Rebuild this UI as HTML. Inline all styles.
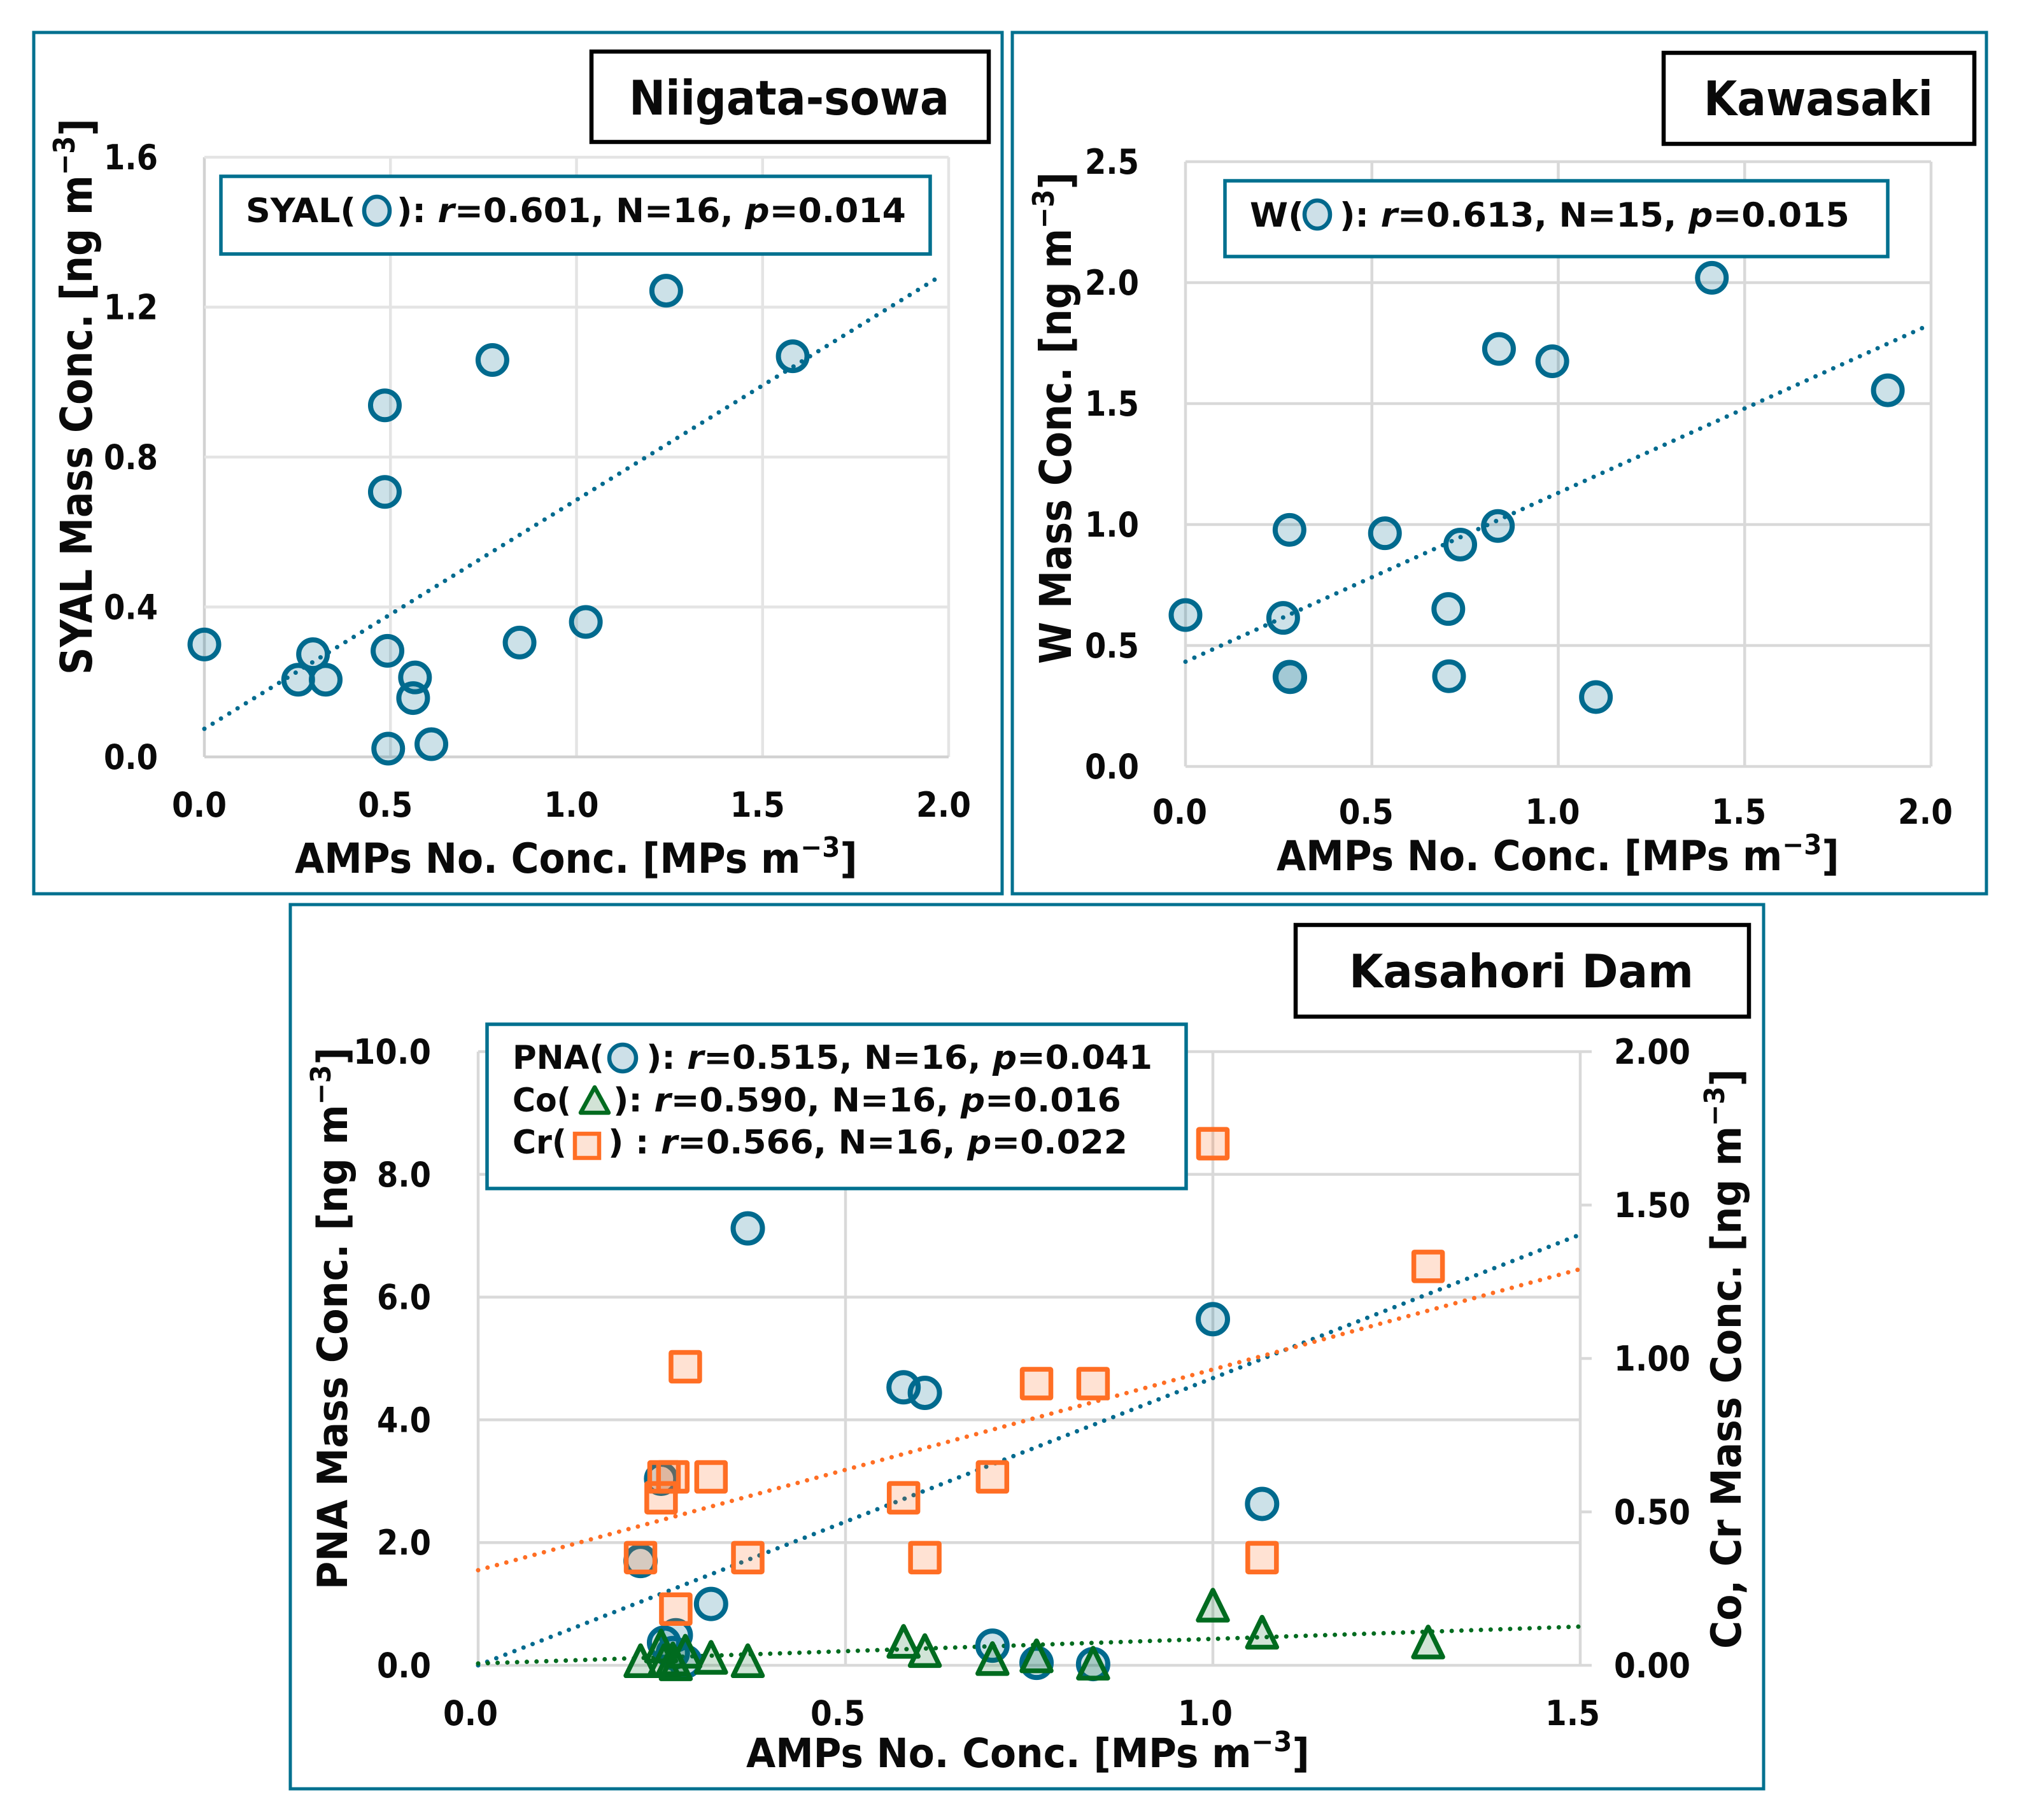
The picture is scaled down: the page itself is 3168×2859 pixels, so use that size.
<!DOCTYPE html>
<html lang="en">
<head>
<meta charset="utf-8">
<title>AMPs correlation charts</title>
<style>
html,body{margin:0;padding:0;background:#fff;}
svg{display:block;}
text{font-family:"DejaVu Sans","Liberation Sans",sans-serif;font-weight:700;fill:#0a0a0a;}
.frame{fill:#fff;stroke:#00708f;stroke-width:5;}
.titlebox{fill:#fff;stroke:#000;stroke-width:6.5;}
.legendbox{fill:#fff;stroke:#00708f;stroke-width:5.5;}
.ital{font-style:italic;}
</style>
</head>
<body>
<svg id="figure" xmlns="http://www.w3.org/2000/svg" width="3168" height="2859" viewBox="0 0 3168 2859">
  <rect x="0" y="0" width="3168" height="2859" fill="#fff"/>

  <!-- Panel 1 -->
  <g id="panel-niigata">
    <rect class="frame" x="53" y="51" width="1521" height="1353"/>
    <g id="n-grid"></g>
    <g id="n-ticks"></g>
    <g id="n-marks"></g>
    <g>
      <rect class="legendbox" x="347" y="277" width="1114" height="122"/>
      <text class="fit" data-w="173" font-size="53" transform="translate(386,349)">SYAL(</text>
      <ellipse cx="592" cy="331" rx="20" ry="22" fill="#cde0e8" stroke="#00688c" stroke-width="6.5"/>
      <text class="fit" data-w="800" font-size="53" transform="translate(623,349)">): <tspan class="ital">r</tspan>=0.601, N=16, <tspan class="ital">p</tspan>=0.014</text>
    </g>
    <rect class="titlebox" x="929" y="81" width="624" height="142"/>
    <text class="fit" data-w="503" font-size="75" transform="translate(988,180)">Niigata-sowa</text>
    <text class="fit" data-w="884" font-size="65" transform="translate(463,1371)">AMPs No. Conc. [MPs m<tspan font-size="44" dy="-25">−3</tspan><tspan dy="25">]</tspan></text>
    <text class="fit" data-w="874" font-size="69" transform="translate(144,1060) rotate(-90)">SYAL Mass Conc. [ng m<tspan font-size="46" dy="-27">−3</tspan><tspan dy="27">]</tspan></text>
  </g>

  <!-- Panel 2 -->
  <g id="panel-kawasaki">
    <rect class="frame" x="1590" y="51" width="1530" height="1353"/>
    <g id="k-grid"></g>
    <g id="k-ticks"></g>
    <g id="k-marks"></g>
    <g>
      <rect class="legendbox" x="1924" y="284" width="1041" height="119"/>
      <text class="fit" data-w="85" font-size="53" transform="translate(1963,356)">W(</text>
      <ellipse cx="2069" cy="337" rx="20" ry="22" fill="#cde0e8" stroke="#00688c" stroke-width="6.5"/>
      <text class="fit" data-w="801" font-size="53" transform="translate(2104,356)">): <tspan class="ital">r</tspan>=0.613, N=15, <tspan class="ital">p</tspan>=0.015</text>
    </g>
    <rect class="titlebox" x="2613" y="83" width="488" height="143"/>
    <text class="fit" data-w="360" font-size="75" transform="translate(2676,181)">Kawasaki</text>
    <text class="fit" data-w="884" font-size="65" transform="translate(2005,1367)">AMPs No. Conc. [MPs m<tspan font-size="44" dy="-25">−3</tspan><tspan dy="25">]</tspan></text>
    <text class="fit" data-w="773" font-size="69" transform="translate(1682,1043) rotate(-90)">W Mass Conc. [ng m<tspan font-size="46" dy="-27">−3</tspan><tspan dy="27">]</tspan></text>
  </g>

  <!-- Panel 3 -->
  <g id="panel-kasahori">
    <rect class="frame" x="456" y="1421" width="2314" height="1389"/>
    <g id="d-grid"></g>
    <g id="d-ticks"></g>
    <g id="d-marks"></g>
    <g>
      <rect class="legendbox" x="765" y="1609" width="1098" height="258"/>
      <text class="fit" data-w="144" font-size="52" transform="translate(805,1679)">PNA(</text>
      <circle cx="978" cy="1662" r="21" fill="#cde0e8" stroke="#00688c" stroke-width="6.5"/>
      <text class="fit" data-w="795" font-size="52" transform="translate(1015,1679)">): <tspan class="ital">r</tspan>=0.515, N=16, <tspan class="ital">p</tspan>=0.041</text>
      <text class="fit" data-w="92" font-size="52" transform="translate(805,1746)">Co(</text>
      <path d="M934 1708 L956 1748 L912 1748 Z" fill="#d2e3d6" stroke="#006b1f" stroke-width="6.5" stroke-linejoin="round"/>
      <text class="fit" data-w="798" font-size="52" transform="translate(963,1746)">): <tspan class="ital">r</tspan>=0.590, N=16, <tspan class="ital">p</tspan>=0.016</text>
      <text class="fit" data-w="85" font-size="52" transform="translate(805,1812)">Cr(</text>
      <rect x="903" y="1781" width="38" height="38" fill="#fde3d5" stroke="#ff6e24" stroke-width="6.5"/>
      <text class="fit" data-w="816" font-size="52" transform="translate(955,1812)">) : <tspan class="ital">r</tspan>=0.566, N=16, <tspan class="ital">p</tspan>=0.022</text>
    </g>
    <rect class="titlebox" x="2035" y="1453" width="712" height="144"/>
    <text class="fit" data-w="541" font-size="72" transform="translate(2119,1551)">Kasahori Dam</text>
    <text class="fit" data-w="885" font-size="63" transform="translate(1172,2776)">AMPs No. Conc. [MPs m<tspan font-size="44" dy="-25">−3</tspan><tspan dy="25">]</tspan></text>
    <text class="fit" data-w="852" font-size="65" transform="translate(545,2497) rotate(-90)">PNA Mass Conc. [ng m<tspan font-size="44" dy="-26">−3</tspan><tspan dy="26">]</tspan></text>
    <text class="fit" data-w="911" font-size="65" transform="translate(2734,2590) rotate(-90)">Co, Cr Mass Conc. [ng m<tspan font-size="44" dy="-26">−3</tspan><tspan dy="26">]</tspan></text>
  </g>
</svg>

<script>
// ---------- Niigata-sowa data ----------
const nXTicks = [0, 0.5, 1.0, 1.5, 2.0];
const nYTicks = [0, 0.4, 0.8, 1.2, 1.6];
const nXTickLabels = ['0.0', '0.5', '1.0', '1.5', '2.0'];
const nYTickLabels = ['0.0', '0.4', '0.8', '1.2', '1.6'];
const nAmps = [0.00, 0.292, 0.252, 0.326, 0.492, 0.566, 0.561, 0.494, 0.610, 0.847, 1.025, 0.485, 0.485, 0.774, 1.241, 1.581];
const nSyal = [0.30, 0.274, 0.206, 0.206, 0.283, 0.212, 0.157, 0.022, 0.034, 0.305, 0.360, 0.707, 0.938, 1.059, 1.244, 1.069];
const nTrendX = [0, 1.97];
const nTrendY = [0.075, 1.278];

// ---------- Kawasaki data ----------
const kXTicks = [0, 0.5, 1.0, 1.5, 2.0];
const kYTicks = [0, 0.5, 1.0, 1.5, 2.0, 2.5];
const kXTickLabels = ['0.0', '0.5', '1.0', '1.5', '2.0'];
const kYTickLabels = ['0.0', '0.5', '1.0', '1.5', '2.0', '2.5'];
const kAmps = [0.00, 0.262, 0.279, 0.279, 0.281, 0.535, 0.705, 0.707, 0.737, 0.838, 0.841, 0.984, 1.101, 1.412, 1.884];
const kW = [0.626, 0.614, 0.978, 0.371, 0.369, 0.964, 0.651, 0.373, 0.917, 0.994, 1.726, 1.675, 0.287, 2.02, 1.555];
const kTrendX = [0, 1.986];
const kTrendY = [0.433, 1.819];

// ---------- Kasahori Dam data ----------
const dXTicks = [0, 0.5, 1.0, 1.5];
const dLeftTicks = [0, 2, 4, 6, 8, 10];
const dRightTicks = [0, 0.5, 1.0, 1.5, 2.0];
const dXTickLabels = ['0.0', '0.5', '1.0', '1.5'];
const dLeftTickLabels = ['0.0', '2.0', '4.0', '6.0', '8.0', '10.0'];
const dRightTickLabels = ['0.00', '0.50', '1.00', '1.50', '2.00'];
const dAmps = [0.221, 0.249, 0.253, 0.265, 0.269, 0.282, 0.317, 0.367, 0.579, 0.608, 0.700, 0.760, 0.837, 1.000, 1.067, 1.293];
const dPna = [1.70, 3.04, 0.37, 0.20, 0.49, 0.06, 1.00, 7.12, 4.53, 4.44, 0.32, 0.04, 0.02, 5.64, 2.63, null];
const dCo = [0.016, 0.064, 0.016, 0.022, 0.006, 0.047, 0.027, 0.016, 0.079, 0.049, 0.023, 0.032, 0.008, 0.197, 0.109, 0.077];
const dCr = [0.351, 0.546, 0.614, 0.614, 0.183, 0.973, 0.614, 0.351, 0.546, 0.351, 0.614, 0.918, 0.918, 1.70, 0.351, 1.30];
const dTrendX = [0, 1.498];
const dPnaTrendY = [0.0, 7.01];
const dCoTrendY = [0.006, 0.126];
const dCrTrendY = [0.31, 1.29];

// ---------- helpers ----------
const NS = 'http://www.w3.org/2000/svg';
const BLUE = '#006a8e', BLUE_FILL = 'rgba(0,104,140,0.2)';
const GREEN = '#006b1f', GREEN_FILL = 'rgba(0,107,31,0.18)';
const ORANGE = '#ff6e24', ORANGE_FILL = 'rgba(255,110,36,0.2)';

function scale(d0, d1, r0, r1) {
  return function (v) { return r0 + (v - d0) / (d1 - d0) * (r1 - r0); };
}
function add(parent, tag, attrs) {
  const el = document.createElementNS(NS, tag);
  for (const k in attrs) el.setAttribute(k, attrs[k]);
  parent.appendChild(el);
  return el;
}
function gridLine(parent, x1, y1, x2, y2, w, color) {
  const el = add(parent, 'line', { x1: x1, y1: y1, x2: x2, y2: y2, stroke: color, 'stroke-width': w });
  
  
  return el;
}
function tickLabel(parent, str, x, y, anchor, width, size) {
  const el = add(parent, 'text', {
    'font-size': size, 'text-anchor': anchor, transform: 'translate(' + x + ',' + y + ')',
    'class': 'fit', 'data-w': width
  });
  el.textContent = str;
  
  
  return el;
}
function circle(parent, cx, cy, r, sw) {
  const el = add(parent, 'circle', { cx: cx, cy: cy, r: r, fill: BLUE_FILL, stroke: BLUE, 'stroke-width': sw });
  
  
  return el;
}
function square(parent, cx, cy) {
  const el = add(parent, 'rect', { x: cx - 22.5, y: cy - 22.5, width: 45, height: 45, rx: 1, fill: ORANGE_FILL, stroke: ORANGE, 'stroke-width': 7.5 });
  
  
  return el;
}
function triangle(parent, cx, cy) {
  const d = 'M' + cx + ' ' + (cy - 23) + ' L' + (cx + 23) + ' ' + (cy + 24) + ' L' + (cx - 23) + ' ' + (cy + 24) + ' Z';
  const el = add(parent, 'path', { d: d, fill: GREEN_FILL, stroke: GREEN, 'stroke-width': 7.5, 'stroke-linejoin': 'round' });
  
  
  return el;
}
function trend(parent, sx, sy, xs, ys, color) {
  const el = add(parent, 'line', {
    x1: sx(xs[0]), y1: sy(ys[0]), x2: sx(xs[1]), y2: sy(ys[1]),
    stroke: color, 'stroke-width': 7, 'stroke-linecap': 'round', 'stroke-dasharray': '0 15.3'
  });
  
  
  return el;
}

// ---------- panel 1 ----------
(function () {
  const L = 321, R = 1490, T = 247, B = 1189;
  const sx = scale(0, 2, L, R), sy = scale(0, 1.6, B, T);
  const grid = document.getElementById('n-grid');
  const ticks = document.getElementById('n-ticks');
  const marks = document.getElementById('n-marks');
  nXTicks.forEach(function (v) { gridLine(grid, sx(v), T, sx(v), B, 4.5, v === 0 ? '#d2d2d2' : '#e4e4e4'); });
  nYTicks.forEach(function (v) { gridLine(grid, L, sy(v), R, sy(v), 4.5, v === 0 ? '#d2d2d2' : '#e4e4e4'); });
  nXTicks.forEach(function (v, i) { tickLabel(ticks, nXTickLabels[i], sx(v) - 8, 1283, 'middle', 86, 54); });
  nYTicks.forEach(function (v, i) { tickLabel(ticks, nYTickLabels[i], 248, sy(v) + 19, 'end', 85, 54); });
  nAmps.forEach(function (x, i) { circle(marks, sx(x), sy(nSyal[i]), 22.5, 8); });
  trend(marks, sx, sy, nTrendX, nTrendY, BLUE);
})();

// ---------- panel 2 ----------
(function () {
  const L = 1862, R = 3033, T = 254, B = 1204;
  const sx = scale(0, 2, L, R), sy = scale(0, 2.5, B, T);
  const grid = document.getElementById('k-grid');
  const ticks = document.getElementById('k-ticks');
  const marks = document.getElementById('k-marks');
  kXTicks.forEach(function (v) { gridLine(grid, sx(v), T, sx(v), B, 4.5, '#d9d9d9'); });
  kYTicks.forEach(function (v) { gridLine(grid, L, sy(v), R, sy(v), 4.5, '#d9d9d9'); });
  kXTicks.forEach(function (v, i) { tickLabel(ticks, kXTickLabels[i], sx(v) - 9, 1294, 'middle', 86, 54); });
  kYTicks.forEach(function (v, i) { tickLabel(ticks, kYTickLabels[i], 1789, sy(v) + 19, 'end', 85, 54); });
  kAmps.forEach(function (x, i) { circle(marks, sx(x), sy(kW[i]), 22.5, 8); });
  trend(marks, sx, sy, kTrendX, kTrendY, BLUE);
})();

// ---------- panel 3 ----------
(function () {
  const L = 751, R = 2482, T = 1652, B = 2616;
  const sx = scale(0, 1.5, L, R), syL = scale(0, 10, B, T), syR = scale(0, 2, B, T);
  const grid = document.getElementById('d-grid');
  const ticks = document.getElementById('d-ticks');
  const marks = document.getElementById('d-marks');
  dXTicks.forEach(function (v) { gridLine(grid, sx(v), T, sx(v), B, 4.5, '#d9d9d9'); });
  dLeftTicks.forEach(function (v) { gridLine(grid, L, syL(v), R, syL(v), 4.5, '#d9d9d9'); });
  dRightTicks.forEach(function (v) { gridLine(grid, R, syR(v), R + 18, syR(v), 4.5, '#d9d9d9'); });
  dXTicks.forEach(function (v, i) { tickLabel(ticks, dXTickLabels[i], sx(v) - 12, 2710, 'middle', 86, 54); });
  dLeftTicks.forEach(function (v, i) { tickLabel(ticks, dLeftTickLabels[i], 677, syL(v) + 19, 'end', dLeftTickLabels[i].length > 3 ? 122 : 85, 54); });
  dRightTicks.forEach(function (v, i) { tickLabel(ticks, dRightTickLabels[i], 2535, syR(v) + 19, 'start', 120, 54); });
  trend(marks, sx, syL, dTrendX, dPnaTrendY, BLUE);
  trend(marks, sx, syR, dTrendX, dCrTrendY, ORANGE);
  trend(marks, sx, syR, dTrendX, dCoTrendY, GREEN);
  dAmps.forEach(function (x, i) { if (dPna[i] !== null) circle(marks, sx(x), syL(dPna[i]), 23, 8); });
  dAmps.forEach(function (x, i) { triangle(marks, sx(x), syR(dCo[i])); });
  dAmps.forEach(function (x, i) { square(marks, sx(x), syR(dCr[i])); });
})();

// ---------- fit every text run to its measured width ----------
Array.prototype.forEach.call(document.querySelectorAll('text.fit'), function (el) {
  const want = parseFloat(el.getAttribute('data-w'));
  const len = el.getComputedTextLength();
  if (len > 0) el.setAttribute('transform', el.getAttribute('transform') + ' scale(' + (want / len).toFixed(4) + ',1)');
});
</script>
</body>
</html>
